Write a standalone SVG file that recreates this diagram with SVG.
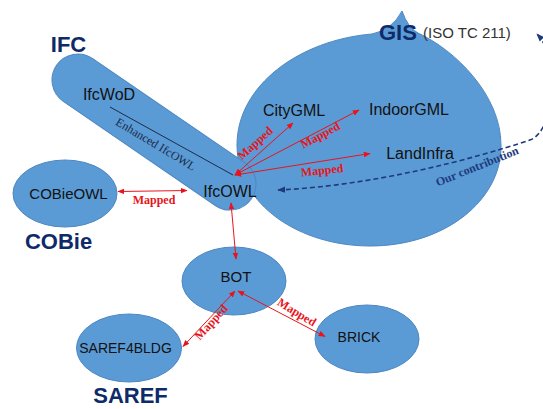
<svg xmlns="http://www.w3.org/2000/svg" width="543" height="409" viewBox="0 0 543 409">
<defs>
<style>
.shape{fill:#5B9BD5;stroke:#4F87C2;stroke-width:1}
.lbl{font-family:"Liberation Sans",Arial,sans-serif;fill:#111;text-anchor:middle;font-size:16px}
.grp{font-family:"Liberation Sans",Arial,sans-serif;font-weight:bold;fill:#0E2A68;font-size:22px}
.map{font-family:"Liberation Serif","Times New Roman",serif;font-weight:bold;fill:#E8141B;font-size:12px;text-anchor:middle}
.red{stroke:#E8141B;stroke-width:1;fill:none;marker-start:url(#ar);marker-end:url(#ar)}
.navy{stroke:#1E3A7B;stroke-width:1.6;fill:none;stroke-dasharray:5 3;marker-start:url(#an);marker-end:url(#an)}
</style>
<marker id="ar" viewBox="0 0 10 10" refX="9" refY="5" markerWidth="7" markerHeight="7" markerUnits="userSpaceOnUse" orient="auto-start-reverse"><path d="M0,1 L10,5 L0,9 z" fill="#E8141B"/></marker>
<marker id="an" viewBox="0 0 10 10" refX="9" refY="5" markerWidth="8" markerHeight="8" markerUnits="userSpaceOnUse" orient="auto-start-reverse"><path d="M0,1 L10,5 L0,9 z" fill="#1E3A7B"/></marker>
</defs>
<rect width="543" height="409" fill="#fff"/>

<g id="gis">
<path class="shape" d="M402,11 Q392,30 372,34 C300,40 237,85 237,145 C237,205 300,246 370,246 C445,246 502,200 501,145 C501,95 455,50 418,33 Q408,28 402,11 Z"/>
<text class="grp" x="379" y="40">GIS</text>
<text x="423" y="38" style="font-family:'Liberation Sans',Arial,sans-serif;font-size:15px;fill:#333">(ISO TC 211)</text>
</g>

<g id="ifc">
<g transform="translate(78,80) rotate(34.4)"><rect class="shape" x="-26" y="-26" width="236.2" height="52" rx="26"/></g>
<text class="grp" x="68.5" y="52" text-anchor="middle">IFC</text>
<line x1="110" y1="107" x2="233" y2="175" stroke="#1C2B4A" stroke-width="1"/>
<text transform="translate(156,144) rotate(31)" dy="0.35em" text-anchor="middle" style="font-family:'Liberation Serif','Times New Roman',serif;font-size:12px;fill:#1C2B4A">Enhanced IfcOWL</text>
</g>

<g id="ifcwod"><text class="lbl" x="109" y="100">IfcWoD</text></g>
<g id="ifcowl"><text class="lbl" x="230" y="197">IfcOWL</text></g>
<g id="citygml"><text class="lbl" x="294" y="116">CityGML</text></g>
<g id="indoorgml"><text class="lbl" x="409" y="115">IndoorGML</text></g>
<g id="landinfra"><text class="lbl" x="420" y="159">LandInfra</text></g>

<g id="cobie">
<ellipse class="shape" cx="65" cy="193.5" rx="52" ry="33.5"/>
<text class="lbl" x="68.5" y="199" style="font-size:15px">COBieOWL</text>
<text class="grp" x="58.5" y="249" text-anchor="middle">COBie</text>
</g>

<g id="bot">
<ellipse class="shape" cx="234" cy="281" rx="52" ry="34"/>
<text class="lbl" x="236" y="282" style="font-size:15px">BOT</text>
</g>

<g id="saref">
<ellipse class="shape" cx="129" cy="348" rx="52.5" ry="34"/>
<text class="lbl" x="125.5" y="352.5" style="font-size:14px">SAREF4BLDG</text>
<text class="grp" x="130.5" y="403" text-anchor="middle">SAREF</text>
</g>

<g id="brick">
<ellipse class="shape" cx="367" cy="339" rx="52" ry="34"/>
<text class="lbl" x="359" y="342" style="font-size:14px">BRICK</text>
</g>

<g id="connectors">
<path class="red" d="M118,191.5 L187,190.5"/>
<path class="red" d="M231,203 L236,259"/>
<path class="red" d="M235,291 L183,346.5"/>
<path class="red" d="M238,291 L325,336.5"/>
<path class="red" d="M235,175 L293,123"/>
<path class="red" d="M235,175 L359,110"/>
<path class="red" d="M235,175 L370,153.5"/>
<path class="navy" d="M278,190 C370,186 470,160 530,140 C554,132 562,60 537,34"/>
<text class="map" x="154" y="204">Mapped</text>
<text class="map" transform="translate(255,143) rotate(-42)" dy="0.35em">Mapped</text>
<text class="map" transform="translate(320,135) rotate(-28)" dy="0.35em">Mapped</text>
<text class="map" transform="translate(322,170) rotate(-6)" dy="0.35em">Mapped</text>
<text class="map" transform="translate(211,322) rotate(-48)" dy="0.35em">Mapped</text>
<text class="map" transform="translate(297,312) rotate(31)" dy="0.35em">Mapped</text>
<text transform="translate(477,166) rotate(-22)" dy="0.35em" text-anchor="middle" style="font-family:'Liberation Serif','Times New Roman',serif;font-weight:bold;font-size:12px;fill:#1E3A7B">Our contribution</text>
</g>
</svg>
